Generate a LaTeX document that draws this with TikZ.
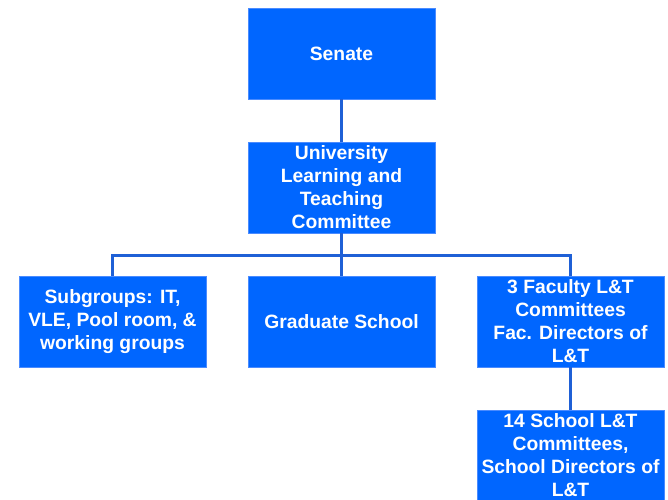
\documentclass[tikz,border=0pt]{standalone}
\usepackage{fontspec}
\setmainfont{Liberation Sans}
\definecolor{boxblue}{HTML}{0066FF}
\definecolor{rimblue}{HTML}{4A8BFF}
\definecolor{lineblue}{HTML}{1F60D6}
\begin{document}
\begin{tikzpicture}[
  x=1pt, y=1pt,
  level distance=134pt,
  sibling distance=229pt,
  every node/.style={rectangle, fill=boxblue, draw=rimblue, line width=0.8pt,
    text=white, minimum width=187pt, minimum height=91pt, inner sep=0pt,
    align=center, font=\bfseries\fontsize{19.3}{23}\selectfont},
  edge from parent/.style={draw=lineblue, line width=2.2pt},
  edge from parent path={(\tikzparentnode.south) -- ++(0,-22pt) -| (\tikzchildnode.north)}
]
\useasboundingbox (0,0) rectangle (668,-499);
\node (senate) at (341.5,-53.5) {Senate}
    child {node (ultc) {University\\Learning and\\Teaching\\Committee}
        child {node (subgroups) {Subgroups: IT,\\VLE, Pool room, \&\\working groups}}
        child {node (gradschool) {Graduate School}}
        child {node (faculty) {3 Faculty L\&T\\Committees\\Fac. Directors of\\L\&T}
            child {node (school) {14 School L\&T\\Committees,\\School Directors of\\L\&T}}
        }
    };
\end{tikzpicture}
\end{document}
